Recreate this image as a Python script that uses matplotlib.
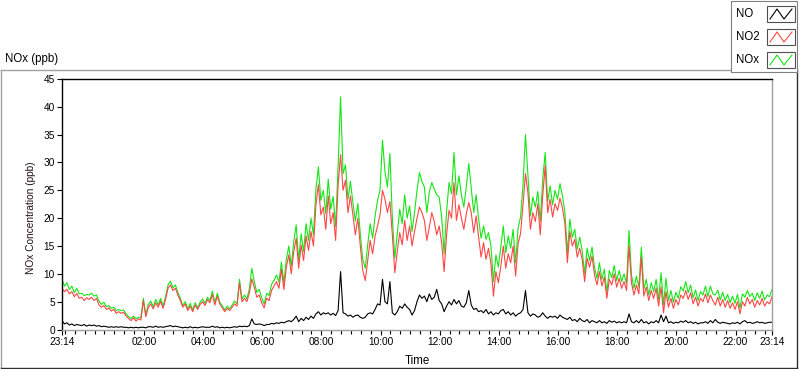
import pandas as pd
import matplotlib
matplotlib.use("Agg")
import matplotlib.pyplot as plt
import matplotlib.dates as mdates
from matplotlib.patches import Rectangle

plt.rcParams['font.family'] = ['Liberation Sans', 'DejaVu Sans']

# 5-minute samples from 23:14 to 23:14 the next day (one row = one hour)
times = pd.date_range("2013-05-14 23:14", periods=289, freq="5min")

no = [
    1.6, 1.0, 1.2, 0.8, 1.0, 0.7, 0.9, 0.8, 0.7, 0.9, 0.6, 0.8,
    0.7, 0.8, 0.6, 0.7, 0.5, 0.6, 0.5, 0.4, 0.5, 0.4, 0.5, 0.4,
    0.5, 0.4, 0.4, 0.3, 0.4, 0.3, 0.4, 0.3, 0.4, 0.4, 0.3, 0.5,
    0.5, 0.4, 0.6, 0.4, 0.5, 0.4, 0.5, 0.6, 0.7, 0.5, 0.6, 0.5,
    0.4, 0.3, 0.4, 0.3, 0.5, 0.3, 0.4, 0.3, 0.4, 0.5, 0.4, 0.4,
    0.4, 0.6, 0.4, 0.5, 0.3, 0.4, 0.3, 0.4, 0.3, 0.4, 0.5, 0.4,
    0.6, 0.5, 0.6, 0.5, 0.7, 1.9, 1.0, 0.9, 1.0, 0.9, 0.7, 0.9,
    0.9, 1.1, 1.0, 1.2, 1.1, 1.3, 1.2, 1.4, 1.6, 1.4, 1.8, 2.4,
    1.4, 2.0, 1.6, 2.2, 1.8, 2.4, 2.0, 2.8, 3.2, 2.6, 3.0, 2.8,
    3.0, 2.6, 2.9, 2.5, 3.4, 10.4, 3.0, 2.8, 2.4, 2.6, 2.2, 2.5,
    2.6, 2.2, 2.0, 2.2, 2.8, 3.0, 2.8, 3.6, 4.6, 4.4, 9.0, 5.0,
    4.6, 8.6, 3.0, 2.6, 3.2, 4.2, 3.8, 4.6, 4.0, 3.6, 2.6, 3.4,
    5.0, 6.2, 5.6, 6.0, 5.0, 6.4, 5.4, 5.8, 7.2, 5.2, 4.6, 3.2,
    4.2, 5.0, 4.4, 5.4, 4.6, 5.2, 4.2, 4.0, 4.8, 7.0, 4.4, 3.6,
    3.8, 3.2, 3.4, 3.0, 3.6, 2.8, 3.2, 2.6, 3.0, 2.8, 3.4, 3.6,
    2.8, 3.2, 2.6, 3.0, 2.4, 2.8, 3.0, 3.6, 7.0, 3.0, 2.4, 2.8,
    2.6, 2.2, 2.4, 3.0, 2.4, 2.0, 2.4, 2.2, 2.4, 2.0, 2.6, 2.2,
    2.0, 1.8, 2.2, 1.6, 1.8, 1.4, 2.0, 1.6, 1.4, 1.8, 1.2, 1.6,
    1.4, 1.2, 1.6, 1.2, 1.4, 1.1, 1.6, 1.3, 1.5, 1.2, 1.4, 1.2,
    1.4, 1.2, 2.8, 1.4, 1.2, 1.6, 1.2, 1.8, 1.2, 1.4, 1.0, 1.4,
    1.2, 1.6, 1.2, 2.6, 1.4, 2.4, 1.2, 1.4, 1.1, 1.3, 1.2, 1.5,
    1.3, 1.6, 1.2, 1.4, 1.1, 1.3, 1.0, 1.2, 1.2, 1.4, 1.1, 1.6,
    1.2, 1.8, 1.3, 1.1, 1.3, 1.2, 1.1, 1.0, 1.2, 1.1, 1.3, 1.0,
    1.4, 1.6, 1.2, 1.3, 1.1, 1.2, 1.4, 1.2, 1.3, 1.1, 1.2, 1.3,
    1.3,
]

no2 = [
    7.4, 6.8, 7.2, 6.4, 6.8, 5.9, 6.5, 5.6, 5.8, 5.2, 5.7, 5.4,
    5.8, 5.2, 5.6, 4.4, 4.0, 4.3, 3.6, 3.9, 3.3, 3.6, 2.9, 3.2,
    2.9, 3.1, 2.4, 2.0, 1.6, 2.1, 1.5, 1.9, 1.7, 5.2, 2.3, 4.0,
    4.6, 3.7, 4.8, 4.0, 5.1, 3.8, 5.4, 7.4, 8.0, 7.0, 7.4, 6.2,
    5.2, 4.0, 4.6, 3.4, 4.2, 3.2, 4.4, 3.6, 4.5, 5.0, 4.3, 5.4,
    4.8, 6.3, 4.4, 6.0, 4.6, 3.9, 3.2, 3.8, 3.4, 4.0, 4.6, 4.2,
    8.4, 5.0, 5.6, 5.0, 6.6, 9.1, 7.6, 5.8, 6.2, 4.8, 3.9, 5.6,
    5.2, 7.0, 7.8, 8.6, 7.4, 10.8, 7.2, 11.2, 13.4, 10.0, 14.0, 16.4,
    11.0, 15.2, 12.4, 16.8, 14.2, 17.6, 15.0, 22.4, 26.0, 20.6, 22.0, 18.0,
    24.0, 19.0, 21.0, 16.0, 26.0, 31.4, 25.0, 26.8, 21.0, 24.0, 20.6, 17.0,
    20.0, 15.0, 10.6, 8.8, 12.4, 16.0, 13.6, 16.8, 18.6, 20.6, 25.0, 23.4,
    21.0, 23.0, 17.0, 10.2, 14.0, 17.4, 15.2, 19.6, 16.0, 18.6, 15.0, 17.6,
    20.0, 22.0, 21.0, 19.6, 16.0, 18.4, 21.0, 19.4, 17.0, 18.6, 15.6, 10.4,
    17.0, 21.4, 20.0, 26.4, 19.6, 22.4, 20.0, 18.0, 20.8, 22.8, 21.0, 17.4,
    20.4, 16.6, 13.0, 15.6, 12.6, 14.6, 11.8, 6.0, 10.4, 8.4, 11.4, 15.0,
    11.0, 13.6, 12.0, 15.0, 9.6, 15.4, 17.2, 22.4, 28.0, 24.6, 18.0, 21.0,
    19.4, 22.6, 17.0, 24.0, 29.4, 21.0, 23.4, 20.2, 22.6, 21.4, 23.6, 21.8,
    19.0, 12.0, 17.6, 15.0, 16.2, 13.0, 14.6, 12.6, 8.6, 12.8, 11.2, 13.2,
    9.8, 8.0, 10.4, 7.8, 9.4, 5.6, 9.0, 8.0, 10.0, 7.6, 9.2, 7.4,
    8.6, 7.0, 15.0, 8.4, 6.2, 8.0, 6.4, 13.0, 6.0, 7.6, 5.2, 7.0,
    5.6, 7.4, 4.2, 7.6, 3.0, 6.8, 4.0, 5.6, 3.8, 5.4, 4.4, 6.2,
    5.6, 7.0, 5.4, 6.6, 4.6, 5.8, 4.2, 5.6, 5.0, 6.4, 4.8, 6.2,
    5.2, 4.4, 5.8, 4.2, 5.4, 4.0, 5.2, 3.8, 4.8, 3.6, 5.0, 2.8,
    5.0, 4.2, 5.8, 4.6, 5.4, 4.0, 5.2, 4.4, 5.6, 4.2, 5.0, 4.6,
    5.9,
]

nox = [
    9.0, 7.8, 8.4, 7.2, 7.8, 6.6, 7.4, 6.4, 6.5, 6.1, 6.3, 6.2,
    6.5, 6.0, 6.2, 5.1, 4.5, 4.9, 4.1, 4.3, 3.8, 4.0, 3.4, 3.6,
    3.4, 3.5, 2.8, 2.3, 2.0, 2.4, 1.9, 2.2, 2.1, 5.6, 2.6, 4.5,
    5.1, 4.1, 5.4, 4.4, 5.6, 4.2, 5.9, 8.0, 8.7, 7.5, 8.0, 6.7,
    5.6, 4.3, 5.0, 3.7, 4.7, 3.5, 4.8, 3.9, 4.9, 5.5, 4.7, 5.8,
    5.2, 6.9, 4.8, 6.5, 4.9, 4.3, 3.5, 4.2, 3.7, 4.4, 5.1, 4.6,
    9.0, 5.5, 6.2, 5.5, 7.3, 11.0, 8.6, 6.7, 7.2, 5.7, 4.6, 6.5,
    6.1, 8.1, 8.8, 9.8, 8.5, 12.1, 8.4, 12.6, 15.0, 11.4, 15.8, 18.8,
    12.4, 17.2, 14.0, 19.0, 16.0, 20.0, 17.0, 25.2, 29.2, 23.2, 25.0, 20.8,
    27.0, 21.6, 23.9, 18.5, 29.4, 41.8, 28.0, 29.6, 23.4, 26.6, 22.8, 19.5,
    22.6, 17.2, 12.6, 11.0, 15.2, 19.0, 16.4, 20.4, 23.2, 25.0, 34.0, 28.4,
    25.6, 31.6, 20.0, 12.8, 17.2, 21.6, 19.0, 24.2, 20.0, 22.2, 17.6, 21.0,
    25.0, 28.2, 26.6, 25.6, 21.0, 24.8, 26.4, 25.2, 24.2, 23.8, 20.2, 13.6,
    21.2, 26.4, 24.4, 31.8, 24.2, 27.6, 24.2, 22.0, 25.6, 29.8, 25.4, 21.0,
    24.2, 19.8, 16.4, 18.6, 16.2, 17.4, 15.0, 8.6, 13.4, 11.2, 14.8, 18.6,
    13.8, 16.8, 14.6, 18.0, 12.0, 18.2, 20.2, 26.0, 35.0, 27.6, 20.4, 23.8,
    22.0, 24.8, 19.4, 27.0, 31.8, 23.0, 25.8, 22.4, 25.0, 23.4, 26.2, 24.0,
    21.0, 13.8, 19.8, 16.6, 18.0, 14.4, 16.6, 14.2, 10.0, 14.6, 12.4, 14.8,
    11.2, 9.2, 12.0, 9.0, 10.8, 6.7, 10.6, 9.3, 11.5, 8.8, 10.6, 8.6,
    10.0, 8.2, 17.8, 9.8, 7.4, 9.6, 7.6, 14.8, 7.2, 9.0, 6.2, 8.4,
    6.8, 9.0, 5.4, 10.2, 4.4, 9.2, 5.2, 7.0, 4.9, 6.7, 5.6, 7.7,
    6.9, 8.6, 6.6, 8.0, 5.7, 7.1, 5.2, 6.8, 6.2, 7.8, 5.9, 7.8,
    6.4, 6.2, 7.1, 5.3, 6.7, 5.2, 6.3, 4.8, 6.0, 4.7, 6.3, 3.8,
    6.4, 5.8, 7.0, 5.9, 6.5, 5.2, 6.6, 5.6, 6.9, 5.3, 6.2, 5.9,
    7.2,
]

series_names = ["NO", "NO2", "NOx"]
series_colors = ["black", "#ff4646", "#14e614"]
yticks = list(range(0, 46, 5))
hour_ticks = [pd.Timestamp(f"2013-05-15 {h:02d}:00") for h in range(2, 23, 2)]

W, H = 800, 369
fig = plt.figure(figsize=(W / 100, H / 100), dpi=100)
fig.patch.set_facecolor("white")

# decoration layer in pixel coordinates
ov = fig.add_axes([0, 0, 1, 1], zorder=-1)
ov.set_xlim(0, W)
ov.set_ylim(H, 0)
ov.axis("off")

# main plot
ax = fig.add_axes([62 / W, 1 - 329.5 / H, 710 / W, 250.5 / H])
ax.plot(times, nox, color=series_colors[2], lw=0.8)
ax.plot(times, no2, color=series_colors[1], lw=0.8)
ax.plot(times, no, color=series_colors[0], lw=0.8)

ax.set_xlim(times[0], times[-1])
ax.set_ylim(0, 45)
ax.set_yticks(yticks)
major = [times[0]] + hour_ticks + [times[-1]]
ax.set_xticks(major)
ax.set_xticklabels([t.strftime("%H:%M") for t in major])
ax.xaxis.set_minor_locator(mdates.MinuteLocator(byminute=[0, 20, 40]))
ax.tick_params(axis="both", which="major", direction="out", length=3.6,
               width=0.8, labelsize=7.3, pad=1.5)
ax.tick_params(axis="x", which="minor", direction="out", length=3, width=0.8)
for side, col in [("top", "black"), ("left", "black"),
                  ("right", "#a0a0a0"), ("bottom", "#a0a0a0")]:
    ax.spines[side].set_color(col)
    ax.spines[side].set_linewidth(1.0)

# outer frame
ov.plot([0.5, 0.5], [367.5, 69.5], color="#a0a0a0", lw=1)
ov.plot([0.5, 797], [69.5, 69.5], color="#a0a0a0", lw=1)
ov.plot([0.5, 797], [367.5, 367.5], color="#303030", lw=1)
ov.plot([797, 797], [69.5, 367.5], color="#303030", lw=1)

ov.text(5, 59, "NOx (ppb)", ha="left", va="center", fontsize=8.3)
ov.text(31, 218, "NOx Concentration (ppb)", rotation=90, ha="center",
        va="center", fontsize=7.3, color="#201010")
ov.text(417, 361, "Time", ha="center", va="center", fontsize=8.3)

# legend
ov.add_patch(Rectangle((731, 1), 66, 71, fc="white", ec="#808080", lw=0.8, zorder=3))
for name, col, yc in zip(series_names, series_colors, [14, 37, 60]):
    ov.text(736, yc, name, ha="left", va="center", fontsize=8.3, zorder=4)
    ov.add_patch(Rectangle((767, yc - 8), 28, 16, fc="white", ec="#505050",
                           lw=0.8, zorder=4))
    ov.plot([770, 777, 784, 792], [yc + 5, yc - 5, yc + 5, yc - 5],
            color=col, lw=0.8, zorder=5)

fig.savefig("out.png", dpi=100)
